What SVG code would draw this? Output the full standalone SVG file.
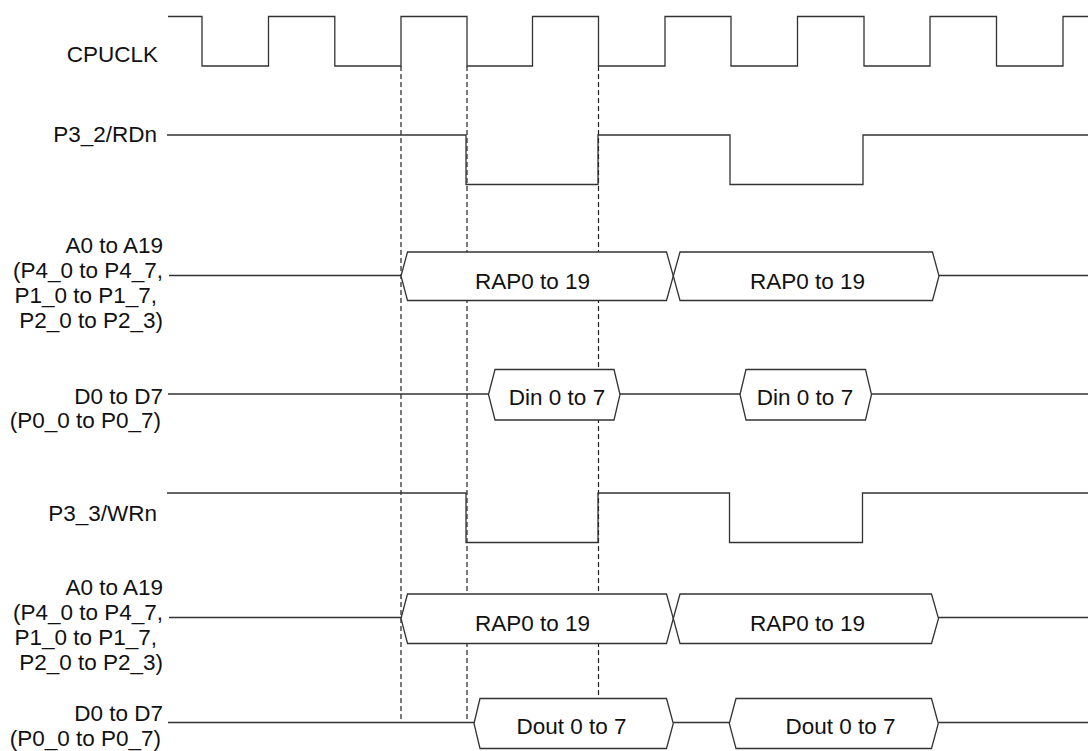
<svg xmlns="http://www.w3.org/2000/svg" width="1088" height="751" viewBox="0 0 1088 751">
<style>
.w{fill:none;stroke:#333;stroke-width:1.3;stroke-linejoin:miter}
.bx{fill:#fff;stroke:#333;stroke-width:1.3}
.d{fill:none;stroke:#222;stroke-width:1.2;stroke-dasharray:5 3}
text{font-family:"Liberation Sans",Arial,sans-serif;font-size:22.5px;fill:#111}
.r{text-anchor:end}
.m{text-anchor:middle}
</style>
<rect width="1088" height="751" fill="#fff"/>
<g id="labels">
<text class="r" x="158" y="62">CPUCLK</text>
<text class="r" x="157" y="142">P3_2/RDn</text>
<text class="r" x="163" y="253">A0 to A19</text>
<text class="r" x="163" y="278">(P4_0 to P4_7,</text>
<text class="r" x="157" y="303">P1_0 to P1_7,</text>
<text class="r" x="163" y="328">P2_0 to P2_3)</text>
<text class="r" x="163" y="404">D0 to D7</text>
<text class="r" x="161" y="428">(P0_0 to P0_7)</text>
<text class="r" x="157" y="521">P3_3/WRn</text>
<text class="r" x="163" y="595">A0 to A19</text>
<text class="r" x="163" y="620">(P4_0 to P4_7,</text>
<text class="r" x="157" y="645">P1_0 to P1_7,</text>
<text class="r" x="163" y="670">P2_0 to P2_3)</text>
<text class="r" x="163" y="721">D0 to D7</text>
<text class="r" x="161" y="746">(P0_0 to P0_7)</text>
</g>
<g id="connectors">
<line class="d" x1="401" y1="66" x2="401" y2="722"/>
<line class="d" x1="467" y1="66" x2="467" y2="722"/>
<line class="d" x1="598.5" y1="66" x2="598.5" y2="722"/>
</g>
<g id="cpuclk">
<path class="w" d="M168,16.5 H202 V66 H268.5 V16.5 H334.8 V66 H401 V16.5 H467 V66 H532.5 V16.5 H598.5 V66 H665 V16.5 H731 V66 H797.5 V16.5 H864 V66 H930 V16.5 H996.5 V66 H1063 V16.5 H1088"/>
</g>
<g id="rdn">
<path class="w" d="M167,135 H466 V184.5 H598 V135 H730 V184.5 H863 V135 H1088"/>
</g>
<g id="addr1">
<path class="w" d="M169,275.5 H401"/>
<path class="w" d="M939,275.5 H1088"/>
<path class="bx" d="M401,276 L407.5,252 H666.5 L673.3,276 L666.5,300.5 H407.5 Z"/>
<path class="bx" d="M673.3,276 L680,252 H932.5 L939,276 L932.5,300.5 H680 Z"/>
<text class="m" x="532.5" y="288.5">RAP0 to 19</text>
<text class="m" x="807.5" y="288.5">RAP0 to 19</text>
</g>
<g id="data1">
<path class="w" d="M168,394 H488.5 M620,394 H740 M871.5,394 H1088"/>
<path class="bx" d="M488.5,394.5 L495,369.5 H614 L620,394.5 L614,420 H495 Z"/>
<path class="bx" d="M740,394.5 L746,369.5 H865.5 L871.5,394.5 L865.5,420 H746 Z"/>
<text class="m" x="557" y="405">Din 0 to 7</text>
<text class="m" x="805" y="405">Din 0 to 7</text>
</g>
<g id="wrn">
<path class="w" d="M167,493 H466 V542.5 H598 V493 H729.5 V542.5 H862.5 V493 H1088"/>
</g>
<g id="addr2">
<path class="w" d="M169,617.5 H401"/>
<path class="w" d="M938.5,617.5 H1088"/>
<path class="bx" d="M401,618.5 L407.5,594 H666.5 L673.3,618.5 L666.5,643.5 H407.5 Z"/>
<path class="bx" d="M673.3,618.5 L680,594 H931.5 L938.5,618.5 L931.5,643.5 H680 Z"/>
<text class="m" x="532.5" y="631">RAP0 to 19</text>
<text class="m" x="807.5" y="631">RAP0 to 19</text>
</g>
<g id="data2">
<path class="w" d="M168,722.5 H474 M673.3,722.5 H729.3 M938.3,722.5 H1088"/>
<path class="bx" d="M474,723.5 L480,698.5 H666.5 L673.3,723.5 L666.5,748.5 H480 Z"/>
<path class="bx" d="M729.3,723.5 L736,698.5 H931.5 L938.3,723.5 L931.5,748.5 H736 Z"/>
<text class="m" x="571.5" y="733.5">Dout 0 to 7</text>
<text class="m" x="840.5" y="733.5">Dout 0 to 7</text>
</g>
</svg>
